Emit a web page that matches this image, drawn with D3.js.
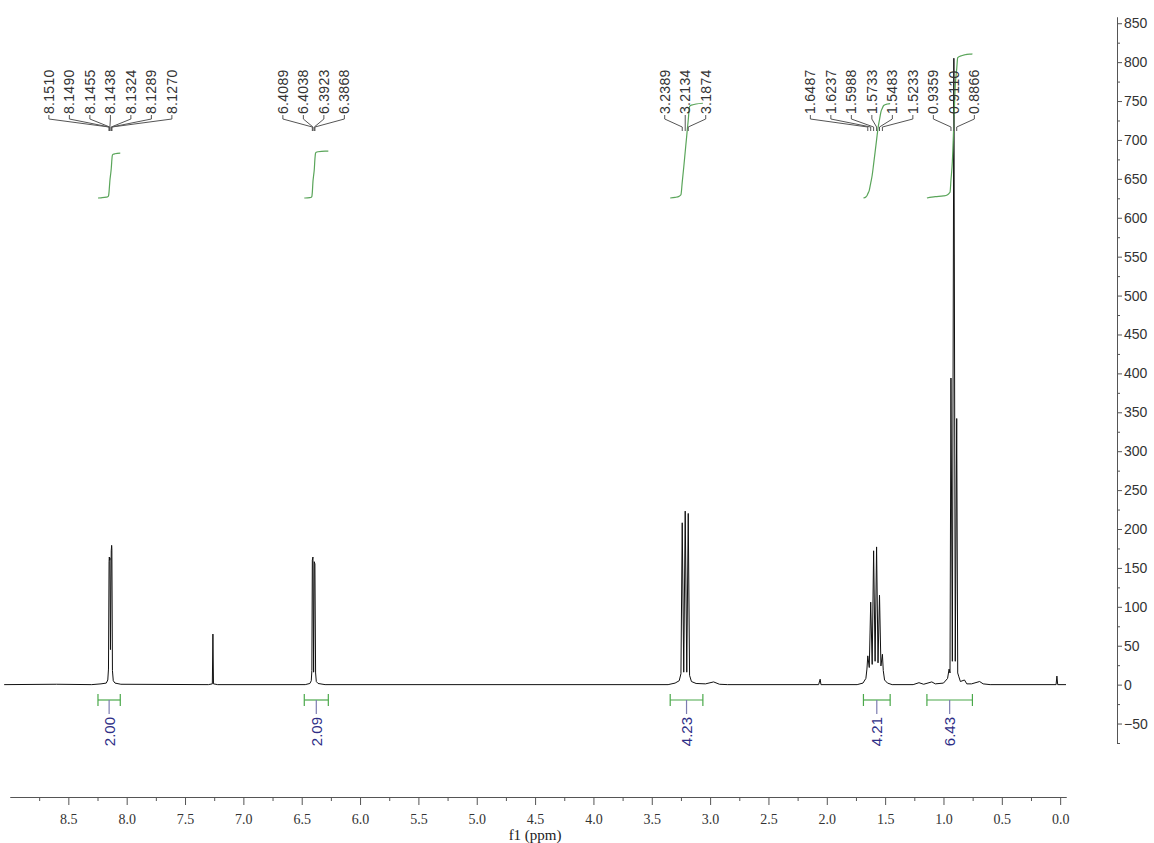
<!DOCTYPE html>
<html>
<head>
<meta charset="utf-8">
<script src="https://cdn.jsdelivr.net/npm/d3@7"></script>
<style>
  body { margin: 0; background: #fff; }
  svg { display: block; }
</style>
</head>
<body>
<svg></svg>
<script>
var width = 1154,
    height = 843

// spectrum trace, [ppm, intensity]
var spectrum = [
  [9.05, 0], [8.60, 0.5], [8.30, 0],
  [8.22, 1], [8.175, 2], [8.162, 6], [8.156, 20],
  [8.1510, 158], [8.1490, 164], [8.1455, 160], [8.1438, 163],
  [8.139, 45],
  [8.1324, 172], [8.1289, 179], [8.1270, 175],
  [8.122, 18], [8.115, 5], [8.10, 2], [8.05, 0.5],
  [7.30, 0], [7.266, 1], [7.261, 65], [7.256, 1], [7.22, 0],
  [6.47, 0], [6.43, 1.5], [6.418, 5], [6.413, 18],
  [6.4089, 160], [6.4038, 164], [6.398, 16], [6.3923, 158], [6.3868, 155],
  [6.381, 15], [6.375, 4], [6.36, 1.5], [6.30, 0],
  [3.36, 0], [3.30, 2], [3.265, 5], [3.25, 14],
  [3.2389, 208], [3.226, 16], [3.2134, 223], [3.200, 16], [3.1874, 220],
  [3.176, 12], [3.16, 4], [3.12, 1.5], [3.04, 1], [2.97, 3.5], [2.92, 0.5], [2.85, 0],
  [2.07, 0], [2.057, 7], [2.05, 0],
  [1.74, 0], [1.69, 2], [1.665, 8], [1.656, 20],
  [1.6487, 37], [1.636, 22], [1.6237, 106], [1.611, 26], [1.5988, 172], [1.586, 30],
  [1.5733, 177], [1.561, 28], [1.5483, 115], [1.536, 24], [1.5233, 39],
  [1.516, 18], [1.505, 6], [1.48, 2], [1.44, 0],
  [1.26, 0], [1.21, 2.5], [1.17, 0.5], [1.10, 3.5], [1.07, 1], [1.00, 2],
  [0.965, 8], [0.952, 20], [0.944, 15],
  [0.9359, 394], [0.924, 30], [0.9110, 805], [0.899, 30], [0.8866, 342],
  [0.878, 15], [0.868, 10], [0.855, 4], [0.82, 6], [0.80, 1], [0.76, 1], [0.69, 4], [0.66, 1], [0.60, 0],
  [0.035, 0], [0.028, 11], [0.021, 0], [-0.05, 0]
]

// peak picking labels, one list per multiplet
var peakGroups = [
  ["8.1510", "8.1490", "8.1455", "8.1438", "8.1324", "8.1289", "8.1270"],
  ["6.4089", "6.4038", "6.3923", "6.3868"],
  ["3.2389", "3.2134", "3.1874"],
  ["1.6487", "1.6237", "1.5988", "1.5733", "1.5483", "1.5233"],
  ["0.9359", "0.9110", "0.8866"]
]

// integral regions [from ppm, to ppm] and their values
var integralRanges = [[8.246, 8.055], [6.478, 6.272], [3.342, 3.062], [1.686, 1.457], [1.142, 0.752]]
var integralValues = [2.00, 2.09, 4.23, 4.21, 6.43]

var xTicks = d3.range(0, 8.51, 0.5)
var xMinorTicks = d3.range(0.25, 9.0, 0.5)
var yTicks = d3.range(-50, 851, 50)
var yMinorTicks = d3.range(-75, 851, 50)

var svg = d3.select("svg").attr("width", width).attr("height", height)
svg.append("rect").attr("width", width).attr("height", height).attr("fill", "#fff")

var x = d3.scaleLinear().domain([9.0, -0.05]).range([10, 1066])
var y = d3.scaleLinear().domain([-75, 858]).range([743, 17])
// integral curves: about 22.4 px per integral unit, starting at y=198
var iy = d3.scaleLinear().domain([0, 1]).range([198, 175.6])

// bottom axis
var xAxisG = svg.append("g").attr("transform", "translate(0,797)")
xAxisG.call(d3.axisBottom(x).tickValues(xMinorTicks).tickSize(4).tickSizeOuter(0).tickFormat(""))
xAxisG.append("g").call(d3.axisBottom(x).tickValues(xTicks).tickSize(8).tickSizeOuter(0)
    .tickPadding(9).tickFormat(d3.format(".1f")))
xAxisG.selectAll("path, line").attr("stroke", "#555")
xAxisG.selectAll("text").attr("fill", "#333").style("font-family", "'Liberation Serif', serif").style("font-size", "14px")

svg.append("text")
  .attr("x", x(4.5)).attr("y", 840)
  .attr("text-anchor", "middle")
  .style("font-family", "'Liberation Serif', serif").style("font-size", "15px")
  .attr("fill", "#222")
  .text("f1 (ppm)")

// right axis
var yAxisG = svg.append("g").attr("transform", "translate(1117,0)")
yAxisG.call(d3.axisRight(y).tickValues(yMinorTicks).tickSize(3).tickSizeOuter(0).tickFormat(""))
yAxisG.append("g").call(d3.axisRight(y).tickValues(yTicks).tickSize(5).tickSizeOuter(0).tickPadding(2))
yAxisG.selectAll("path, line").attr("stroke", "#555")
yAxisG.selectAll("text").attr("fill", "#333").style("font-family", "'Liberation Sans', sans-serif").style("font-size", "14px")

// spectrum
var line = d3.line()
  .x(function(d) { return x(d[0]) })
  .y(function(d) { return y(d[1]) })

svg.append("path")
  .datum(spectrum)
  .attr("d", line)
  .attr("fill", "none")
  .attr("stroke", "#111")
  .attr("stroke-width", 1)

// linear interpolation inside the trace
function valueAt(ppm) {
  for (var i = 0; i < spectrum.length - 1; i++) {
    var a = spectrum[i], b = spectrum[i + 1]
    if (ppm <= a[0] && ppm >= b[0]) {
      var t = (a[0] - ppm) / (a[0] - b[0])
      return a[1] + t * (b[1] - a[1])
    }
  }
  return 0
}

// integral curves + brackets
integralRanges.forEach(function(r, i) {
  var pts = [[r[0], valueAt(r[0])]]
  spectrum.forEach(function(d) { if (d[0] < r[0] && d[0] > r[1]) pts.push(d) })
  pts.push([r[1], valueAt(r[1])])

  var cum = [0]
  for (var k = 1; k < pts.length; k++) {
    cum.push(cum[k - 1] + (pts[k - 1][0] - pts[k][0]) * (pts[k - 1][1] + pts[k][1]) / 2)
  }
  var total = cum[cum.length - 1]
  var curve = pts.map(function(d, k) { return [x(d[0]), iy(cum[k] / total * integralValues[i])] })

  svg.append("path")
    .attr("d", d3.line().curve(d3.curveMonotoneX)(curve))
    .attr("fill", "none")
    .attr("stroke", "#5aa55a")
    .attr("stroke-width", 1.2)

  var x0 = x(r[0]), x1 = x(r[1]), xm = (x0 + x1) / 2
  var g = svg.append("g").attr("stroke", "#4aa84a").attr("stroke-width", 1.2)
  g.append("line").attr("x1", x0).attr("x2", x1).attr("y1", 700).attr("y2", 700)
  g.append("line").attr("x1", x0).attr("x2", x0).attr("y1", 694).attr("y2", 706)
  g.append("line").attr("x1", x1).attr("x2", x1).attr("y1", 694).attr("y2", 706)
  svg.append("line").attr("x1", xm).attr("x2", xm).attr("y1", 700).attr("y2", 714)
    .attr("stroke", "#7c7cb0").attr("stroke-width", 1.2)

  svg.append("text")
    .attr("transform", "translate(" + xm + ",717) rotate(-90)")
    .attr("text-anchor", "end")
    .attr("dy", "0.36em")
    .attr("fill", "#2e2e86")
    .style("font-family", "'Liberation Sans', sans-serif").style("font-size", "15px")
    .text(integralValues[i].toFixed(2))
})

// peak labels: centre each group on its peaks, push groups apart right to left
var spacing = 20.5
var layout = peakGroups.map(function(labels) {
  var px = labels.map(function(s) { return x(+s) })
  var c = d3.mean(px)
  return { labels: labels, px: px, start: c - (labels.length - 1) * spacing / 2 }
})
for (var j = layout.length - 2; j >= 0; j--) {
  var cur = layout[j], next = layout[j + 1]
  var end = cur.start + (cur.labels.length - 1) * spacing
  if (end > next.start - spacing) cur.start -= end - (next.start - spacing)
}

layout.forEach(function(grp) {
  grp.labels.forEach(function(s, k) {
    var lx = grp.start + k * spacing, px = grp.px[k]
    svg.append("text")
      .attr("transform", "translate(" + lx + ",114) rotate(-90)")
      .attr("dy", "0.36em")
      .attr("fill", "#333")
      .style("font-family", "'Liberation Sans', sans-serif").style("font-size", "14px")
      .style("letter-spacing", "0.3px")
      .text(s)
    svg.append("path")
      .attr("d", "M" + lx + ",115V119L" + px + ",127V131")
      .attr("fill", "none")
      .attr("stroke", "#555")
      .attr("stroke-width", 1)
  })
})
</script>
</body>
</html>
